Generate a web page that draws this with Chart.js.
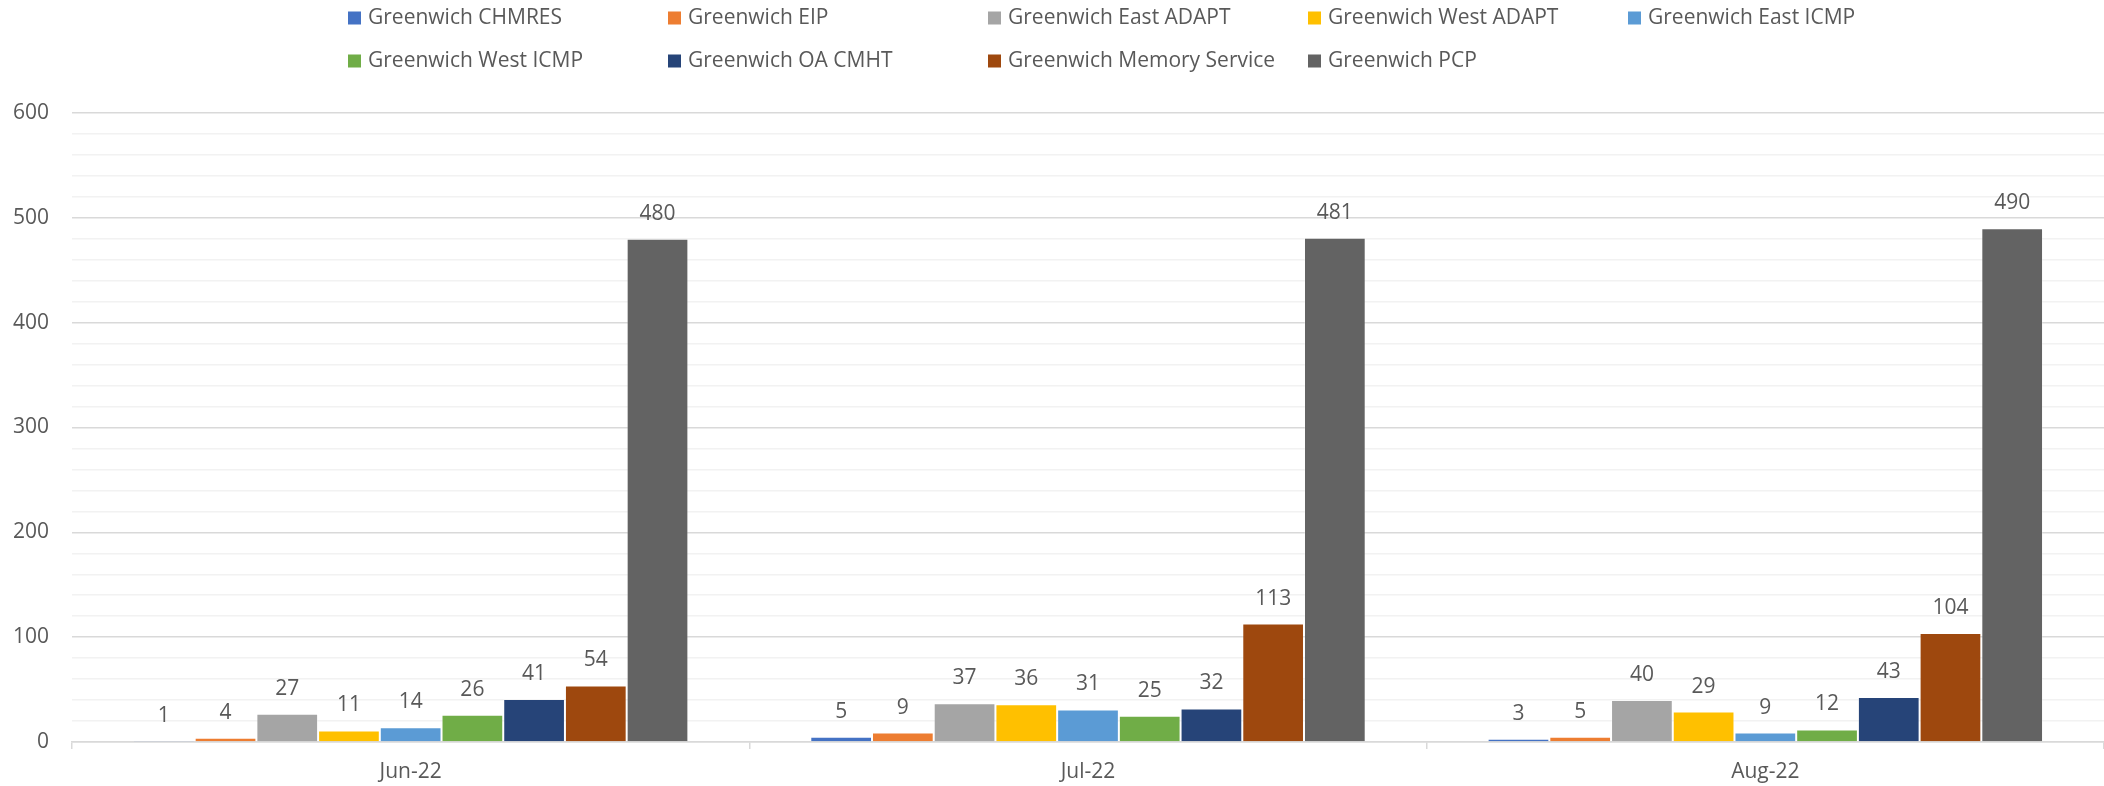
<!DOCTYPE html>
<html>
<head>
<meta charset="utf-8">
<title>Greenwich referrals by team</title>
<script src="https://cdn.jsdelivr.net/npm/chart.js@4.4.0/dist/chart.umd.min.js"></script>
<style>
  html, body { margin: 0; padding: 0; background: #ffffff; }
  #wrap { width: 2104px; height: 786px; }
</style>
</head>
<body>
<div id="wrap"><canvas id="teamChart" width="2104" height="786"></canvas></div>
<script>
"use strict";

var months = ["Jun-22", "Jul-22", "Aug-22"];

var teamNames = [
  "Greenwich CHMRES",
  "Greenwich EIP",
  "Greenwich East ADAPT",
  "Greenwich West ADAPT",
  "Greenwich East ICMP",
  "Greenwich West ICMP",
  "Greenwich OA CMHT",
  "Greenwich Memory Service",
  "Greenwich PCP"
];

var chmres = [1, 5, 3];
var eip = [4, 9, 5];
var eastAdapt = [27, 37, 40];
var westAdapt = [11, 36, 29];
var eastIcmp = [14, 31, 9];
var westIcmp = [26, 25, 12];
var oaCmht = [41, 32, 43];
var memoryService = [54, 113, 104];
var pcp = [480, 481, 490];

var yTicks = [0, 100, 200, 300, 400, 500, 600];

var teamColours = ["#4472C4", "#ED7D31", "#A5A5A5", "#FFC000", "#5B9BD5",
                   "#70AD47", "#264478", "#9E480E", "#636363"];

var textGrey = "#595959";
var fontName = "'Open Sans', sans-serif";

var allSeries = [chmres, eip, eastAdapt, westAdapt, eastIcmp, westIcmp, oaCmht, memoryService, pcp];
var datasets = [];
for (var i = 0; i < allSeries.length; i++) {
  datasets.push({
    label: teamNames[i],
    data: allSeries[i],
    backgroundColor: teamColours[i],
    borderColor: "rgba(255,255,255,0.25)",
    borderWidth: 1,
    barPercentage: 1,
    categoryPercentage: 0.82
  });
}

// numbers above each bar
var valueLabels = {
  id: "valueLabels",
  afterDatasetsDraw: function (chart) {
    var ctx = chart.ctx;
    ctx.save();
    ctx.font = "21px " + fontName;
    ctx.fillStyle = textGrey;
    ctx.textAlign = "center";
    ctx.textBaseline = "middle";
    chart.data.datasets.forEach(function (ds, di) {
      var meta = chart.getDatasetMeta(di);
      meta.data.forEach(function (bar, idx) {
        ctx.fillText(String(ds.data[idx]), bar.x, bar.y - 25);
      });
    });
    ctx.restore();
  }
};

// two-row legend laid out in fixed columns
var gridLegend = {
  id: "gridLegend",
  afterDraw: function (chart) {
    var ctx = chart.ctx;
    var startX = 348, colW = 320, rowY = [18, 61], perRow = 5;
    ctx.save();
    ctx.font = "21px " + fontName;
    ctx.textAlign = "left";
    ctx.textBaseline = "middle";
    chart.data.datasets.forEach(function (ds, di) {
      var col = di % perRow;
      var row = Math.floor(di / perRow);
      var x = startX + col * colW;
      var y = rowY[row];
      ctx.fillStyle = ds.backgroundColor;
      ctx.fillRect(x, y - 6.5, 13, 13);
      ctx.fillStyle = textGrey;
      ctx.fillText(ds.label, x + 20, y);
    });
    ctx.restore();
  }
};

var ctx0 = document.getElementById("teamChart");
var teamChart = new Chart(ctx0, {
  type: "bar",
  data: {
    labels: months,
    datasets: datasets
  },
  options: {
    responsive: false,
    animation: false,
    layout: { padding: { top: 113, right: 0, bottom: 0, left: 0 } },
    plugins: {
      legend: { display: false },
      tooltip: { enabled: false }
    },
    scales: {
      x: {
        offset: true,
        afterFit: function (scale) { scale.height = 44; },
        grid: {
          offset: true,
          drawOnChartArea: false,
          drawTicks: true,
          tickLength: 7,
          color: "#d9d9d9",
          lineWidth: 1.5
        },
        border: { display: true, color: "#d9d9d9", width: 1.5 },
        ticks: {
          color: textGrey,
          padding: 10,
          font: { family: fontName, size: 21 }
        }
      },
      y: {
        min: 0,
        max: 600,
        afterFit: function (scale) { scale.width = 72; },
        afterBuildTicks: function (scale) {
          var t = [];
          for (var v = 0; v <= 600; v += 20) { t.push({ value: v }); }
          scale.ticks = t;
        },
        grid: {
          drawTicks: false,
          lineWidth: 1.5,
          color: function (c) {
            return yTicks.indexOf(c.tick.value) >= 0 ? "#d9d9d9" : "#f2f2f2";
          }
        },
        border: { display: false },
        ticks: {
          color: textGrey,
          padding: 23,
          autoSkip: false,
          font: { family: fontName, size: 21 },
          callback: function (value) {
            return yTicks.indexOf(value) >= 0 ? String(value) : "";
          }
        }
      }
    }
  },
  plugins: [valueLabels, gridLegend]
});
</script>
</body>
</html>
